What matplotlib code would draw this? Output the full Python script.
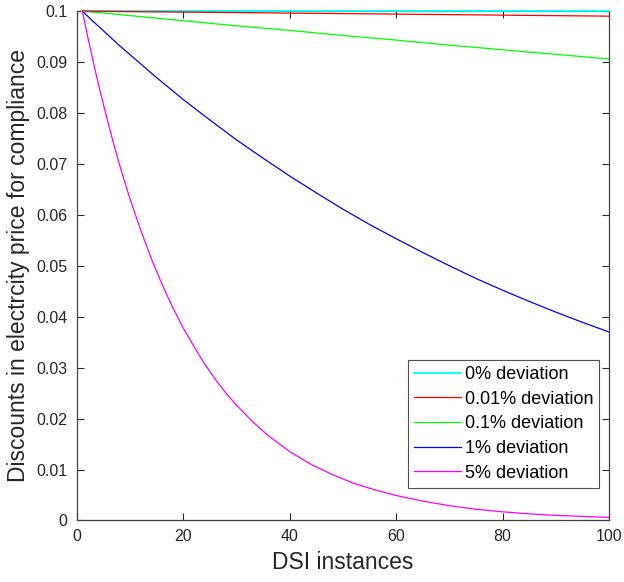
import numpy as np
import matplotlib
matplotlib.use("Agg")
import matplotlib.pyplot as plt

plt.rcParams['font.family'] = ['Liberation Sans', 'DejaVu Sans']

# values
x_coarse = [1, 10, 20, 30, 40, 50, 60, 70, 80, 90, 100]
x_mid = [1, 3, 5, 8, 10, 15, 20, 25, 30, 35, 40, 45, 50,
         55, 60, 65, 70, 75, 80, 85, 90, 95, 100]
x_fine = [1, 2, 3, 4, 5, 6, 7, 8, 9, 10, 12, 14, 16, 18, 20, 22, 24,
          26, 28, 30, 33, 36, 40, 44, 48, 52, 56, 60, 65, 70, 75, 80,
          85, 90, 95, 100]

dev0 = [0.1, 0.1, 0.1, 0.1, 0.1, 0.1, 0.1, 0.1, 0.1, 0.1, 0.1]
dev001 = [0.1, 0.0999, 0.0998, 0.0997, 0.0996, 0.0995,
          0.0994, 0.0993, 0.0992, 0.0991, 0.0990]
dev01 = [0.1, 0.0991, 0.0981, 0.0971, 0.0962, 0.0952,
         0.0943, 0.0933, 0.0924, 0.0915, 0.0906]
dev1 = [0.1, 0.0980, 0.0961, 0.0932, 0.0914, 0.0869, 0.0826, 0.0786,
        0.0747, 0.0711, 0.0676, 0.0643, 0.0611, 0.0581, 0.0553, 0.0526,
        0.0500, 0.0475, 0.0452, 0.0430, 0.0409, 0.0389, 0.0370]
dev5 = [0.1, 0.0950, 0.0903, 0.0857, 0.0815, 0.0774, 0.0735, 0.0698,
        0.0663, 0.0630, 0.0569, 0.0513, 0.0463, 0.0418, 0.0377, 0.0341,
        0.0307, 0.0277, 0.0250, 0.0226, 0.0194, 0.0166, 0.0135, 0.0110,
        0.0090, 0.0073, 0.0060, 0.0049, 0.0038, 0.0029, 0.0022, 0.0017,
        0.0013, 0.0010, 0.0008, 0.0006]

labels = ['0% deviation', '0.01% deviation', '0.1% deviation',
          '1% deviation', '5% deviation']

fig = plt.figure(figsize=(6.24, 5.82), dpi=100)
ax = fig.add_axes([0.1234, 0.1057, 0.8526, 0.8753])

ax.plot(x_coarse, dev0, color='#00ffff', lw=1.3, label=labels[0],
        clip_on=False, zorder=4)
ax.plot(x_coarse, dev001, color='#ff0000', lw=0.9, label=labels[1],
        clip_on=False, zorder=4)
ax.plot(x_coarse, dev01, color='#00ff00', lw=0.9, label=labels[2])
ax.plot(x_mid, dev1, color='#0000ff', lw=0.9, label=labels[3])
ax.plot(x_fine, dev5, color='#ff00ff', lw=0.9, label=labels[4])

ax.set_xlim(0, 100)
ax.set_ylim(0, 0.1)
ax.set_xticks(np.arange(0, 101, 20))
ax.set_yticks(np.arange(0, 0.1001, 0.01))
ax.set_yticklabels(['0', '0.01', '0.02', '0.03', '0.04', '0.05',
                    '0.06', '0.07', '0.08', '0.09', '0.1'])

axis_col = '#262626'
for sp in ax.spines.values():
    sp.set_color('#404040')
    sp.set_linewidth(0.9)
ax.tick_params(direction='in', top=True, right=True, length=5,
               width=0.8, colors=axis_col, labelsize=11.5)
ax.tick_params(axis='y', pad=7)
ax.tick_params(axis='x', pad=6)

ax.set_xlabel('DSI instances', fontsize=16.5, color=axis_col, labelpad=5)
ax.set_ylabel('Discounts in electrcity price for compliance', fontsize=16.5,
              color=axis_col, labelpad=4)

leg = ax.legend(loc='lower right', bbox_to_anchor=(0.982, 0.064),
                borderaxespad=0, fontsize=13, frameon=True, fancybox=False,
                edgecolor=axis_col, handlelength=2.6, handletextpad=0.2,
                labelspacing=0.42, borderpad=0.35)
leg.get_frame().set_linewidth(0.8)

fig.savefig('out.png', dpi=100)
